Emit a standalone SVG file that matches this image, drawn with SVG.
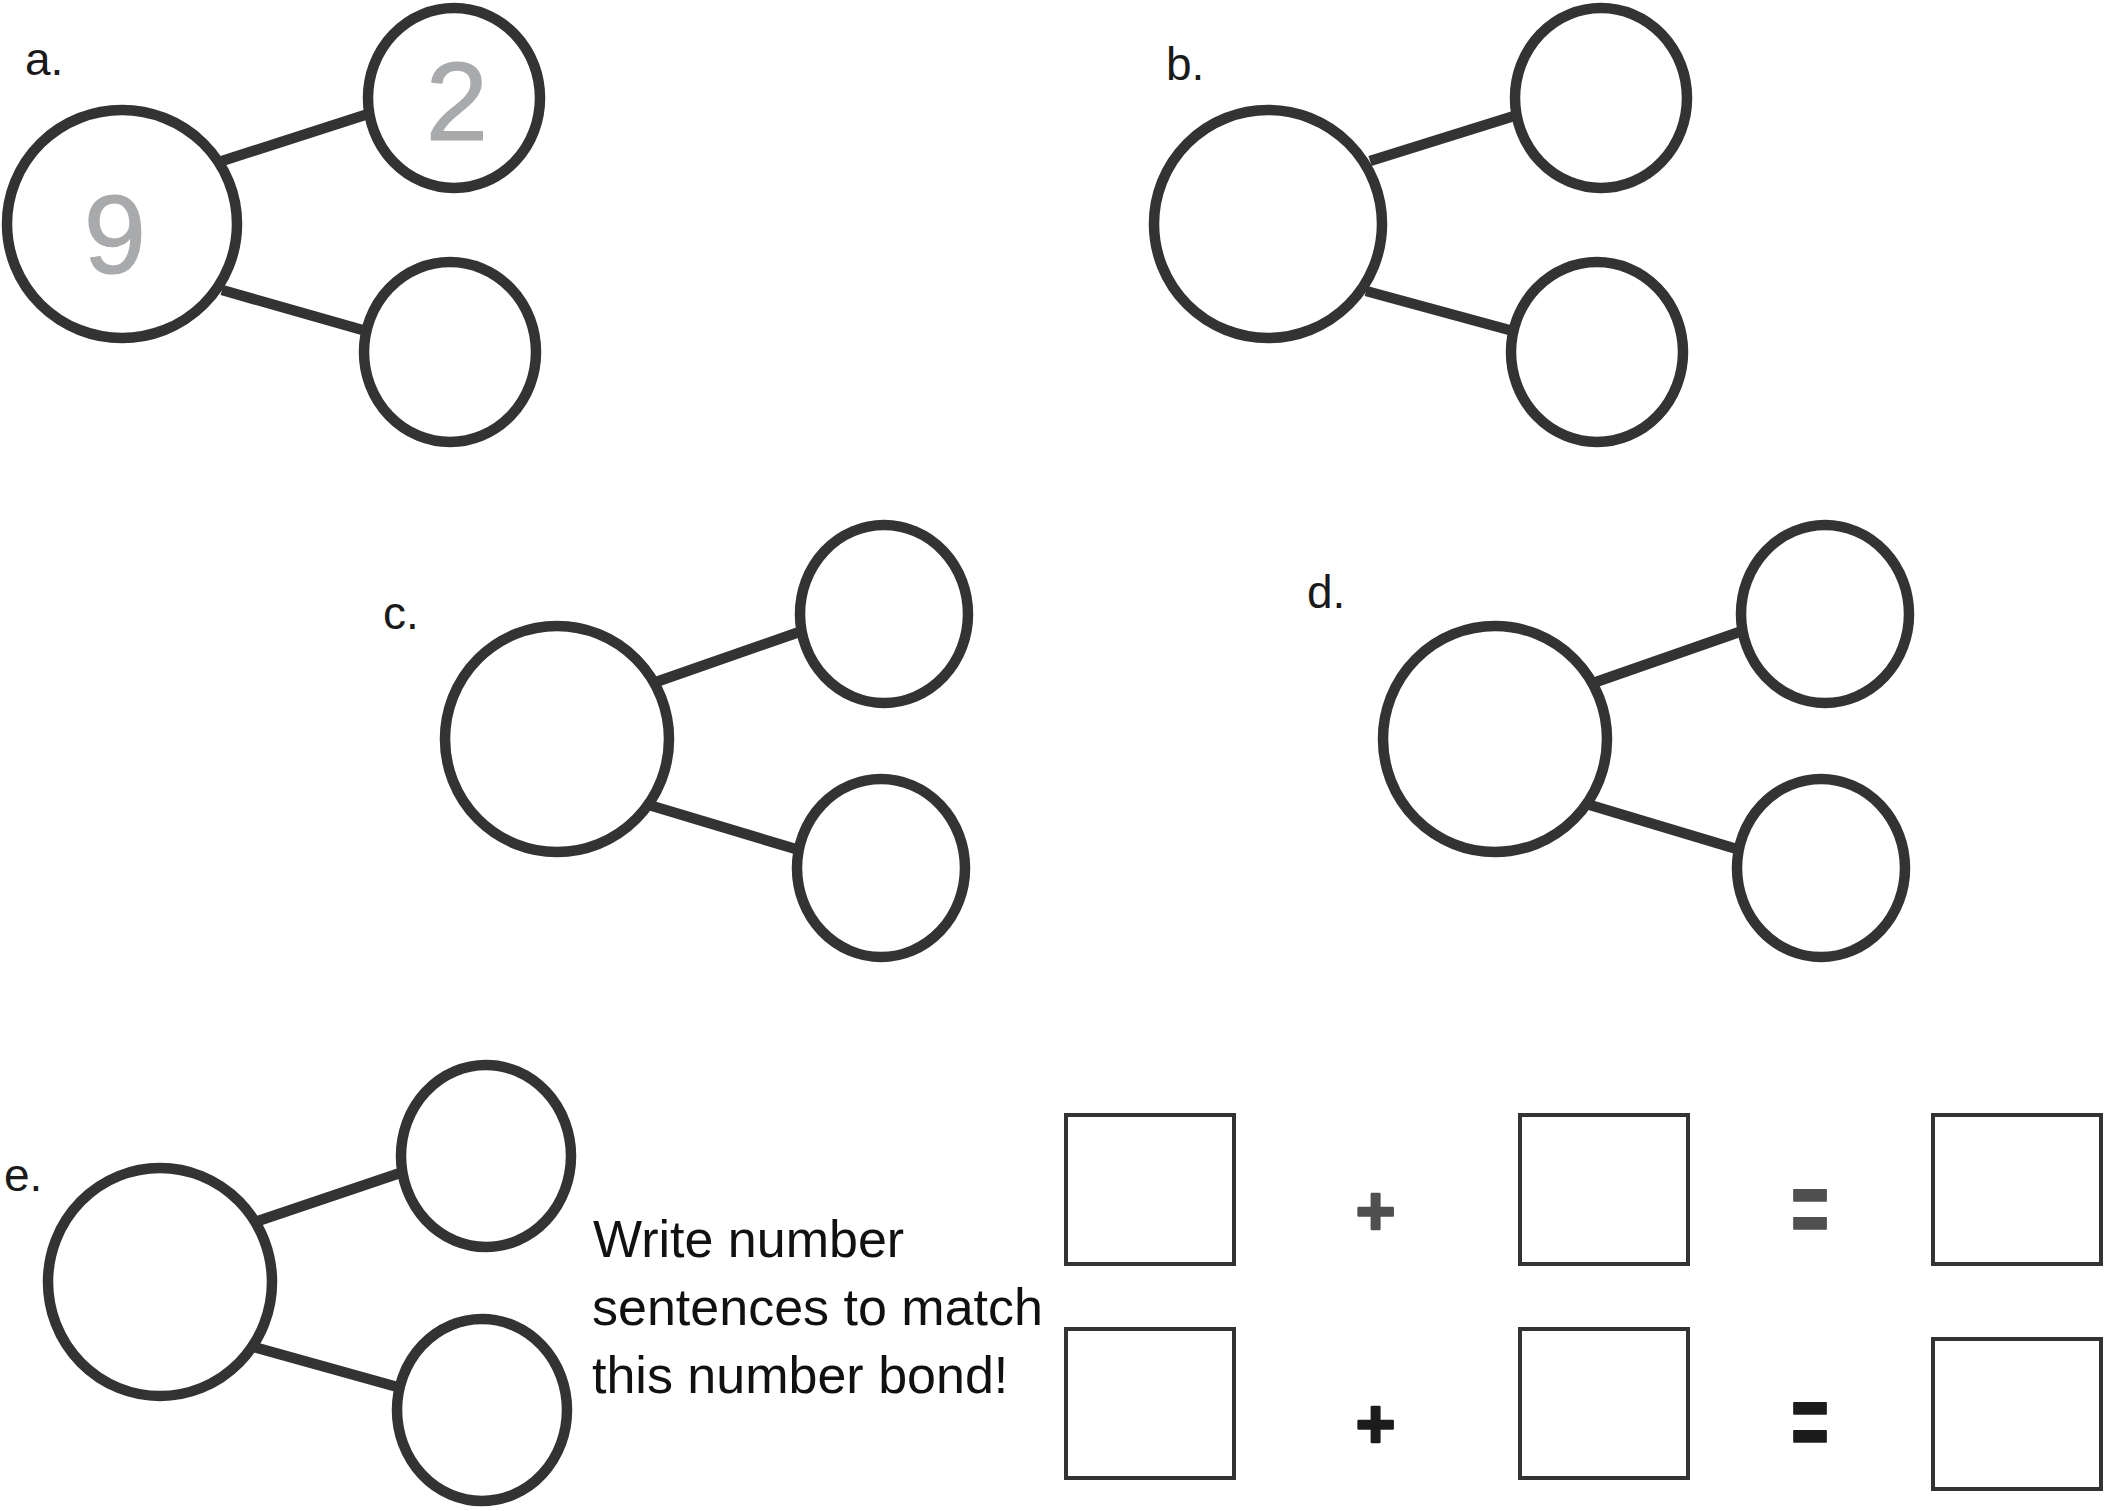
<svg xmlns="http://www.w3.org/2000/svg" width="2106" height="1511" viewBox="0 0 2106 1511">
<style>
.c{fill:#fff;stroke:#333;stroke-width:10.5}
.l{stroke:#333;stroke-width:10.5;stroke-linecap:butt}
.lbl{font-family:"Liberation Sans",Arial,sans-serif;font-size:46px;fill:#1a1a1a}
.dig{font-family:"Liberation Sans",Arial,sans-serif;font-size:112px;fill:#a9aaac;stroke:#a9aaac;stroke-width:1.2;stroke-linejoin:round;text-anchor:middle}
.txt{font-family:"Liberation Sans",Arial,sans-serif;font-size:52px;fill:#111}
.box{fill:#fff;stroke:#333;stroke-width:4}
.op{font-family:"Liberation Sans",Arial,sans-serif;font-weight:bold;text-anchor:middle;stroke-linejoin:round}
.op1{fill:#505050;stroke:#505050}
.op2{fill:#1c1c1c;stroke:#1c1c1c}
</style>
<rect width="2106" height="1511" fill="#fff"/>
<g id="connectors">
<line class="l" x1="222" y1="161" x2="368" y2="114"/>
<line class="l" x1="222" y1="290" x2="366" y2="331"/>
<line class="l" x1="1370" y1="161" x2="1514" y2="116"/>
<line class="l" x1="1366" y1="291" x2="1513" y2="331"/>
<line class="l" x1="656" y1="682" x2="805" y2="630"/>
<line class="l" x1="649" y1="805" x2="799" y2="850"/>
<line class="l" x1="1596" y1="682" x2="1745" y2="630"/>
<line class="l" x1="1590" y1="805" x2="1740" y2="850"/>
<line class="l" x1="258" y1="1221" x2="403" y2="1172"/>
<line class="l" x1="254" y1="1347" x2="401" y2="1388"/>
</g>
<g id="bond-a">
<text class="lbl" x="25" y="75">a.</text>
<ellipse id="a-whole" class="c" cx="122" cy="224" rx="115" ry="114"/>
<ellipse id="a-part1" class="c" cx="454" cy="98" rx="86" ry="90"/>
<ellipse id="a-part2" class="c" cx="450" cy="352" rx="86" ry="90"/>
<text class="dig" x="115" y="273">9</text>
<text class="dig" x="457" y="140">2</text>
</g>
<g id="bond-b">
<text class="lbl" x="1166" y="80">b.</text>
<ellipse id="b-whole" class="c" cx="1268" cy="224" rx="114" ry="114"/>
<ellipse id="b-part1" class="c" cx="1601" cy="98" rx="86" ry="90"/>
<ellipse id="b-part2" class="c" cx="1597" cy="352" rx="86" ry="90"/>
</g>
<g id="bond-c">
<text class="lbl" x="383" y="629">c.</text>
<ellipse id="c-whole" class="c" cx="557" cy="739" rx="112" ry="113"/>
<ellipse id="c-part1" class="c" cx="884" cy="614" rx="84" ry="89"/>
<ellipse id="c-part2" class="c" cx="881" cy="868" rx="84" ry="89"/>
</g>
<g id="bond-d">
<text class="lbl" x="1307" y="608">d.</text>
<ellipse id="d-whole" class="c" cx="1495" cy="739" rx="112" ry="113"/>
<ellipse id="d-part1" class="c" cx="1825" cy="614" rx="84" ry="89"/>
<ellipse id="d-part2" class="c" cx="1821" cy="868" rx="84" ry="89"/>
</g>
<g id="bond-e">
<text class="lbl" x="4" y="1191">e.</text>
<ellipse id="e-whole" class="c" cx="160" cy="1282" rx="112" ry="114"/>
<ellipse id="e-part1" class="c" cx="486" cy="1156" rx="85" ry="91"/>
<ellipse id="e-part2" class="c" cx="482" cy="1410" rx="85" ry="91"/>
</g>
<g id="instruction">
<text class="txt" x="593" y="1257">Write number</text>
<text class="txt" x="592" y="1325">sentences to match</text>
<text class="txt" x="592" y="1393">this number bond!</text>
</g>
<g id="sentence-1">
<rect class="box" x="1066" y="1115" width="168" height="149"/>
<text class="op op1" x="1375.5" y="1234" font-size="68" stroke-width="2.5">+</text>
<rect class="box" x="1520" y="1115" width="168" height="149"/>
<text class="op op1" x="1810" y="1244" font-size="104" stroke-width="1.5" textLength="38" lengthAdjust="spacingAndGlyphs">=</text>
<rect class="box" x="1933" y="1115" width="168" height="149"/>
</g>
<g id="sentence-2">
<rect class="box" x="1066" y="1329" width="168" height="149"/>
<text class="op op2" x="1375.5" y="1447" font-size="68" stroke-width="2.5">+</text>
<rect class="box" x="1520" y="1329" width="168" height="149"/>
<text class="op op2" x="1810" y="1457" font-size="104" stroke-width="1.5" textLength="38" lengthAdjust="spacingAndGlyphs">=</text>
<rect class="box" x="1933" y="1339" width="168" height="150"/>
</g>
</svg>
